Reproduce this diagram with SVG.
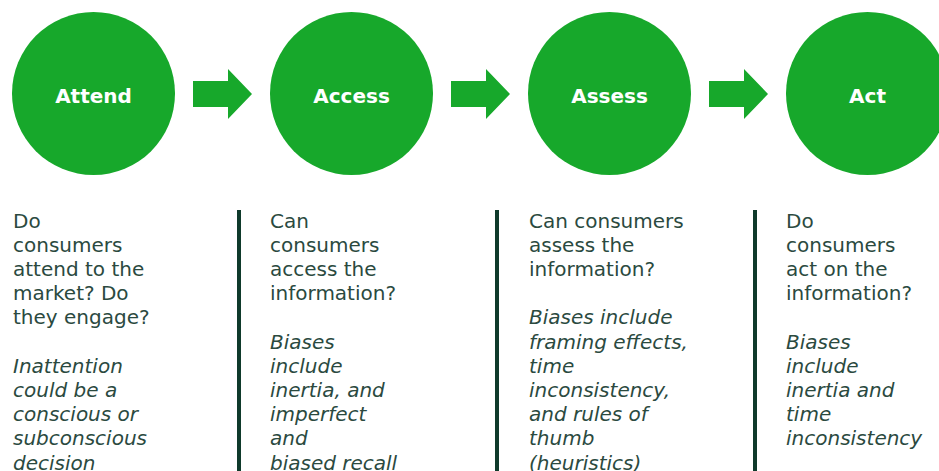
<svg xmlns="http://www.w3.org/2000/svg" width="939" height="471" viewBox="0 0 939 471">
<defs>
<style>
.circ{fill:#17a82b}
.lbl{font-family:"DejaVu Sans",sans-serif;font-weight:bold;font-size:20px;fill:#ffffff;text-anchor:middle}
.body{font-family:"DejaVu Sans",sans-serif;font-size:20px;fill:#2b4a3f}
.it{font-style:italic}
.arrow{fill:#17a82b}
.sep{stroke:#0f3a2b;stroke-width:4}
</style>
<path id="arr" d="M0 -13 H35 V-25 L59 0 L35 25 V13 H0 Z"/>
</defs>
<g id="connectors">
<use href="#arr" class="arrow" x="193" y="94"/>
<use href="#arr" class="arrow" x="451" y="94"/>
<use href="#arr" class="arrow" x="709" y="94"/>
</g>
<g id="attend">
<circle class="circ" cx="93.5" cy="93.5" r="81.5"/>
<text class="lbl" x="93.5" y="103">Attend</text>
</g>
<g id="access">
<circle class="circ" cx="351.5" cy="93.5" r="81.5"/>
<text class="lbl" x="351.5" y="103">Access</text>
</g>
<g id="assess">
<circle class="circ" cx="609.5" cy="93.5" r="81.5"/>
<text class="lbl" x="609.5" y="103">Assess</text>
</g>
<g id="act">
<circle class="circ" cx="867.5" cy="93.5" r="81.5"/>
<text class="lbl" x="867.5" y="103">Act</text>
</g>
<g id="separators">
<line class="sep" x1="239" y1="210" x2="239" y2="471"/>
<line class="sep" x1="497" y1="210" x2="497" y2="471"/>
<line class="sep" x1="755" y1="210" x2="755" y2="471"/>
</g>
<g id="text-attend" class="body">
<text x="13" y="227.5">Do</text>
<text x="13" y="251.7">consumers</text>
<text x="13" y="275.9">attend to the</text>
<text x="13" y="300.1">market? Do</text>
<text x="13" y="324.3">they engage?</text>
<text class="it" x="13" y="372.7">Inattention</text>
<text class="it" x="13" y="396.9">could be a</text>
<text class="it" x="13" y="421.1">conscious or</text>
<text class="it" x="13" y="445.3">subconscious</text>
<text class="it" x="13" y="469.5">decision</text>
</g>
<g id="text-access" class="body">
<text x="270" y="227.5">Can</text>
<text x="270" y="251.7">consumers</text>
<text x="270" y="275.9">access the</text>
<text x="270" y="300.1">information?</text>
<text class="it" x="270" y="348.5">Biases</text>
<text class="it" x="270" y="372.7">include</text>
<text class="it" x="270" y="396.9">inertia, and</text>
<text class="it" x="270" y="421.1">imperfect</text>
<text class="it" x="270" y="445.3">and</text>
<text class="it" x="270" y="469.5">biased recall</text>
</g>
<g id="text-assess" class="body">
<text x="529" y="227.5">Can consumers</text>
<text x="529" y="251.7">assess the</text>
<text x="529" y="275.9">information?</text>
<text class="it" x="529" y="324.3">Biases include</text>
<text class="it" x="529" y="348.5">framing effects,</text>
<text class="it" x="529" y="372.7">time</text>
<text class="it" x="529" y="396.9">inconsistency,</text>
<text class="it" x="529" y="421.1">and rules of</text>
<text class="it" x="529" y="445.3">thumb</text>
<text class="it" x="529" y="469.5">(heuristics)</text>
</g>
<g id="text-act" class="body">
<text x="786" y="227.5">Do</text>
<text x="786" y="251.7">consumers</text>
<text x="786" y="275.9">act on the</text>
<text x="786" y="300.1">information?</text>
<text class="it" x="786" y="348.5">Biases</text>
<text class="it" x="786" y="372.7">include</text>
<text class="it" x="786" y="396.9">inertia and</text>
<text class="it" x="786" y="421.1">time</text>
<text class="it" x="786" y="445.3">inconsistency</text>
</g>
</svg>
